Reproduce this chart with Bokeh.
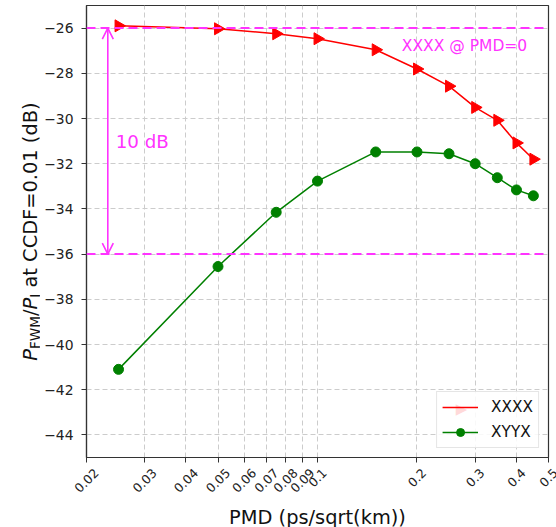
import math
from bokeh.plotting import figure
from bokeh.layouts import row, column
from bokeh.models import (Range1d, FixedTicker, Span, Arrow, OpenHead, Label,
                          Legend, LegendItem, ColumnDataSource)
from bokeh.embed import file_html
from bokeh.resources import INLINE

# ---------------- data ----------------
pmd = [0.025, 0.05, 0.075, 0.1, 0.15, 0.2, 0.25, 0.3, 0.35, 0.4, 0.45]
xxxx = [-25.9, -26.03, -26.25, -26.47, -26.96, -27.81, -28.57, -29.51, -30.08, -31.08, -31.8]
xyyx = [-41.1, -36.55, -34.15, -32.77, -31.48, -31.48, -31.56, -32.0, -32.62, -33.16, -33.42]

x_ticks = [0.02, 0.03, 0.04, 0.05, 0.06, 0.07, 0.08, 0.09, 0.1, 0.2, 0.3, 0.4, 0.5]
x_tick_labels = ["0.02", "0.03", "0.04", "0.05", "0.06", "0.07", "0.08", "0.09",
                 "0.1", "0.2", "0.3", "0.4", "0.5"]
y_ticks = [-44, -42, -40, -38, -36, -34, -32, -30, -28, -26]
y_tick_labels = ["\u221244", "\u221242", "\u221240", "\u221238", "\u221236",
                 "\u221234", "\u221232", "\u221230", "\u221228", "\u221226"]

ref_levels = [-26, -36]
span_label = "10 dB"
ref_label = "XXXX @ PMD=0"
series_names = ["XXXX", "XYYX"]
x_title = "PMD (ps/sqrt(km))"

X_LO, X_HI = 0.02, 0.5
Y_LO, Y_HI = -45, -25

# ---------------- style / layout ----------------
FONT = "DejaVu Sans"
MAG = "#ff33ff"
RED = "#ff0000"
GREEN = "#008000"
TXT = "#111111"

PAGE_W, PAGE_H = 556, 527
STRIP_W = 40                     # left strip holding the y title
MAIN_W = PAGE_W - STRIP_W
B_LEFT, B_RIGHT, B_TOP, B_BOTTOM = 46, 8, 5, 7
FRAME_W = MAIN_W - B_LEFT - B_RIGHT
FRAME_H = 452
MAIN_H = B_TOP + FRAME_H + B_BOTTOM
FRAME_BOTTOM_PAGE = B_TOP + FRAME_H
BOT_H = PAGE_H - MAIN_H

# character widths (DejaVu Sans, em) used to place hand-built labels
W = {"P": 0.603, "F": 0.575, "W": 0.989, "M": 0.863, "/": 0.337, "I": 0.295,
     " ": 0.318, "a": 0.613, "t": 0.392, "C": 0.698, "D": 0.770, "=": 0.838,
     "0": 0.636, "1": 0.636, "2": 0.636, "3": 0.636, "4": 0.636, "5": 0.636,
     "6": 0.636, "7": 0.636, "8": 0.636, "9": 0.636, ".": 0.318,
     "(": 0.390, ")": 0.390, "d": 0.635, "B": 0.686, "X": 0.685, "Y": 0.611}

def twidth(s, fs):
    return sum(W[c] for c in s) * fs

# ---------------- main plot ----------------
p = figure(width=MAIN_W, height=MAIN_H, x_axis_type="log",
           x_range=Range1d(X_LO, X_HI), y_range=Range1d(Y_LO, Y_HI),
           output_backend="svg", toolbar_location=None,
           min_border_left=B_LEFT, min_border_right=B_RIGHT, min_border_top=B_TOP,
           min_border_bottom=B_BOTTOM)
p.background_fill_color = "white"
p.border_fill_color = "white"
p.outline_line_color = "#333333"
p.outline_line_width = 1.2

for ax in (p.xaxis, p.yaxis):
    ax.axis_line_color = "#333333"
    ax.axis_line_width = 1.2
    ax.major_tick_line_color = "#333333"
    ax.major_tick_out = 5
    ax.major_tick_in = 0
    ax.minor_tick_line_color = None
    ax.major_label_text_font = FONT
    ax.major_label_text_color = "#222222"

p.xaxis.ticker = FixedTicker(ticks=x_ticks)
p.xaxis.major_label_overrides = {t: "" for t in x_ticks}
p.xaxis.major_label_text_font_size = "0px"
p.xaxis.major_label_standoff = 0

p.yaxis.ticker = FixedTicker(ticks=y_ticks)
p.yaxis.major_label_overrides = {t: l for t, l in zip(y_ticks, y_tick_labels)}
p.yaxis.major_label_text_font_size = "13.9px"
p.yaxis.major_label_standoff = 8

for g in (p.xgrid, p.ygrid):
    g.grid_line_color = "#cccccc"
    g.grid_line_dash = "5 3"
    g.grid_line_width = 1
p.xgrid.ticker = FixedTicker(ticks=x_ticks)
p.ygrid.ticker = FixedTicker(ticks=y_ticks)

for lv in ref_levels:
    p.add_layout(Span(location=lv, dimension="width", line_color=MAG,
                      line_width=2, line_dash="9 5"))

ARROW_X = 0.0232
p.add_layout(Arrow(x_start=ARROW_X, y_start=ref_levels[1], x_end=ARROW_X, y_end=ref_levels[0],
                   line_color=MAG, line_width=1.6,
                   start=OpenHead(size=11, line_color=MAG, line_width=1.6),
                   end=OpenHead(size=11, line_color=MAG, line_width=1.6)))
p.add_layout(Label(x=0.0245, y=(ref_levels[0] + ref_levels[1]) / 2, text=span_label,
                   text_font=FONT, text_font_size="18.3px", text_color=MAG,
                   text_baseline="middle", text_align="left"))
p.add_layout(Label(x=0.180, y=-26.8, text=ref_label,
                   text_font=FONT, text_font_size="15.5px", text_color=MAG,
                   text_baseline="middle", text_align="left"))

src1 = ColumnDataSource(dict(x=pmd, y=xxxx, ang=[-math.pi / 2] * len(pmd)))
src2 = ColumnDataSource(dict(x=pmd, y=xyyx))
r1l = p.line("x", "y", source=src1, line_color=RED, line_width=1.5)
r1s = p.scatter("x", "y", source=src1, marker="triangle", size=12, angle="ang",
                fill_color=RED, line_color=RED)
r2l = p.line("x", "y", source=src2, line_color=GREEN, line_width=1.5)
r2s = p.scatter("x", "y", source=src2, marker="circle", size=10,
                fill_color=GREEN, line_color=GREEN)

LG_MARGIN, LG_PAD, LG_SPACING, LG_GW, LG_GH, LG_STANDOFF = 9, 5, 5, 36, 20, 13
LG_FS = 15.3
legend = Legend(items=[LegendItem(label=series_names[0], renderers=[r1l]),
                       LegendItem(label=series_names[1], renderers=[r2l, r2s])],
                location="bottom_right", margin=LG_MARGIN, padding=LG_PAD,
                spacing=LG_SPACING, glyph_width=LG_GW, glyph_height=LG_GH,
                label_standoff=LG_STANDOFF,
                label_text_font=FONT, label_text_font_size=f"{LG_FS}px",
                label_text_color=TXT,
                border_line_color="#cccccc", border_line_width=1,
                background_fill_color="white", background_fill_alpha=0.85)
p.add_layout(legend)

# right-pointing marker drawn onto the first legend row
lg_w = 2 * LG_PAD + LG_GW + LG_STANDOFF + max(twidth(s, LG_FS) for s in series_names)
lg_h = 2 * LG_PAD + 2 * LG_GH + LG_SPACING
mk_x = FRAME_W - LG_MARGIN - lg_w + LG_PAD + LG_GW / 2
mk_y = LG_MARGIN + lg_h - LG_PAD - LG_GH / 2
p.add_layout(Label(x=mk_x, y=mk_y, x_units="screen", y_units="screen", text="\u25B6",
                   text_font=FONT, text_font_size="15px", text_color=RED,
                   text_align="center", text_baseline="middle"))

# ---------------- bottom strip: rotated x tick labels and x title ----------------
dec = math.log10(X_HI / X_LO)
px_per_dec = FRAME_W / dec
b_lo = 10 ** (math.log10(X_LO) - B_LEFT / px_per_dec)
b_hi = 10 ** (math.log10(X_HI) + B_RIGHT / px_per_dec)
pb = figure(width=MAIN_W, height=BOT_H, x_axis_type="log",
            x_range=Range1d(b_lo, b_hi), y_range=Range1d(0, 1),
            output_backend="svg", toolbar_location=None,
            x_axis_location=None, y_axis_location=None,
            min_border=0, min_border_left=0, min_border_right=0,
            min_border_top=0, min_border_bottom=0)
pb.frame_align = False
pb.outline_line_color = None
pb.grid.visible = False
pb.background_fill_color = "white"
pb.border_fill_color = "white"

XT_FS = 12.5
for t, lab in zip(x_ticks, x_tick_labels):
    ext = (twidth(lab, XT_FS) + 0.73 * XT_FS) * math.sqrt(0.5)
    cy_page = FRAME_BOTTOM_PAGE + 10 + ext / 2
    pb.add_layout(Label(x=t, y=PAGE_H - cy_page, x_units="data", y_units="screen",
                        text=lab, angle=math.pi / 4, text_font=FONT,
                        text_font_size=f"{XT_FS}px", text_color="#222222",
                        text_align="center", text_baseline="middle"))
pb.add_layout(Label(x=math.sqrt(X_LO * X_HI), y=PAGE_H - 517, x_units="data", y_units="screen",
                    text=x_title, text_font=FONT, text_font_size="19.4px",
                    text_color=TXT, text_align="center", text_baseline="alphabetic"))

# ---------------- left strip: y title with sub-scripts ----------------
pl = figure(width=STRIP_W, height=PAGE_H, x_range=Range1d(0, 1), y_range=Range1d(0, 1),
            output_backend="svg", toolbar_location=None,
            x_axis_location=None, y_axis_location=None,
            min_border=0, min_border_left=0, min_border_right=0,
            min_border_top=0, min_border_bottom=0)
pl.frame_align = False
pl.outline_line_color = None
pl.grid.visible = False
pl.background_fill_color = "white"
pl.border_fill_color = "white"

MAIN = 19.4
SUB = 13.6
pieces = [("P", MAIN, "italic", 0, 0), ("FWM", SUB, "normal", 4, 0), ("/", MAIN, "normal", 0, 0),
          ("P", MAIN, "italic", 0, 0), ("I", SUB, "normal", 4, 0),
          ("at CCDF=0.01 (dB)", MAIN, "normal", 0, W[" "] * MAIN)]
total = sum(twidth(s, fs) + gap for s, fs, _, _, gap in pieces)
centre_page = B_TOP + FRAME_H / 2
ypos = PAGE_H - centre_page - total / 2
BASE_X = 30
for s, fs, st, shift, gap in pieces:
    ypos += gap
    pl.add_layout(Label(x=BASE_X + shift, y=ypos, x_units="screen", y_units="screen",
                        text=s, angle=math.pi / 2, text_font=FONT,
                        text_font_size=f"{fs}px", text_font_style=st,
                        text_color=TXT, text_align="left",
                        text_baseline="alphabetic"))
    ypos += twidth(s, fs)

layout = row(pl, column(p, pb, spacing=0), spacing=0)
open("out.html", "w").write(file_html(layout, INLINE))
